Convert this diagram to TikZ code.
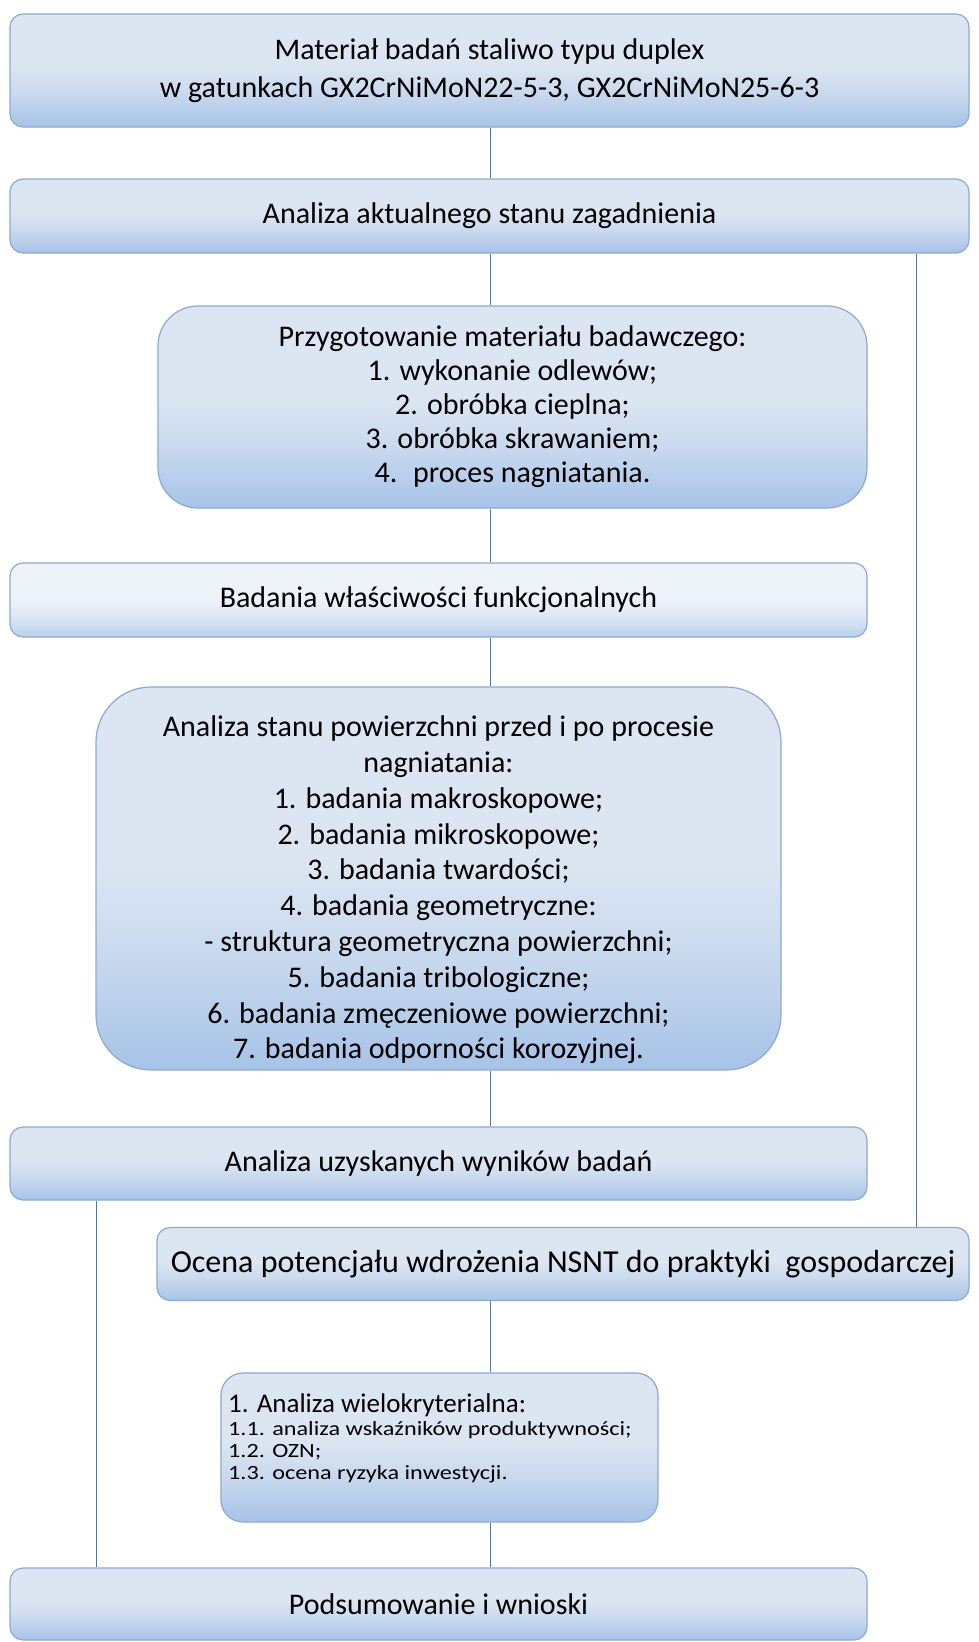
\documentclass[tikz,border=0pt]{standalone}
\usepackage{fontspec}
\setmainfont{Carlito}
\newfontfamily\widefont[FakeStretch=1.2]{Carlito}
\definecolor{btop}{HTML}{DCE6F2}
\definecolor{bmid}{HTML}{C9D9EE}
\definecolor{bbot}{HTML}{A7C3E8}
\definecolor{ltop}{HTML}{EEF3FA}
\definecolor{lmid}{HTML}{E0EAF6}
\definecolor{lbot}{HTML}{B9CFEC}
\definecolor{bord}{HTML}{8CA9CF}
\definecolor{conn}{HTML}{5673A0}
\pgfdeclareverticalshading{boxshade}{100bp}{color(0bp)=(bbot); color(25bp)=(bbot); color(40bp)=(bmid); color(52bp)=(btop); color(75bp)=(btop); color(100bp)=(btop)}
\pgfdeclareverticalshading{lightshade}{100bp}{color(0bp)=(lbot); color(25bp)=(lbot); color(40bp)=(lmid); color(52bp)=(ltop); color(75bp)=(ltop); color(100bp)=(ltop)}
\tikzset{
  box/.style={draw=bord, line width=1.2pt, shade, shading=boxshade, inner sep=0pt,
    align=center, rounded corners=13pt, font=\fontsize{30}{35.5}\selectfont},
  lightbox/.style={box, shading=lightshade},
  conn/.style={draw=conn, line width=1pt},
  txt/.style={inner sep=0pt, align=center, font=\fontsize{30}{35.8}\selectfont},
  head/.style={inner sep=0pt, anchor=base west, font=\fontsize{27}{30}\selectfont},
  sub/.style={inner sep=0pt, anchor=base west, font=\widefont\fontsize{20.2}{22}\selectfont}
}
\begin{document}
\begin{tikzpicture}[x=1pt,y=-1pt]
\useasboundingbox (0,0) rectangle (979,1642);
\coordinate (cx) at (490,0);
\coordinate (rx) at (916,0);
\coordinate (lx) at (96,0);

\node[box, minimum width=959pt, minimum height=113pt, font=\fontsize{30}{37.5}\selectfont] (b1) at (489.5,70.5)
  {Materiał badań staliwo typu duplex\\w gatunkach GX2CrNiMoN22-5-3, GX2CrNiMoN25-6-3};
\node[box, minimum width=959pt, minimum height=74pt] (b2) at (489.5,216)
  {Analiza aktualnego stanu zagadnienia};
\node[box, minimum width=709pt, minimum height=202pt, rounded corners=40pt, font=\fontsize{30}{34}\selectfont] (b3) at (512.5,407)
  {Przygotowanie materiału badawczego:\\1. wykonanie odlewów;\\2. obróbka cieplna;\\3. obróbka skrawaniem;\\4.~ proces nagniatania.};
\node[lightbox, minimum width=857pt, minimum height=74pt] (b4) at (438.5,600)
  {Badania właściwości funkcjonalnych};
\node[box, minimum width=685pt, minimum height=383pt, rounded corners=55pt] (b5) at (438.5,878.5) {};
\node[txt] (b5t) at (438.5,890)
  {Analiza stanu powierzchni przed i po procesie\\nagniatania:\\1. badania makroskopowe;\\2. badania mikroskopowe;\\3. badania twardości;\\4. badania geometryczne:\\- struktura geometryczna powierzchni;\\5. badania tribologiczne;\\6. badania zmęczeniowe powierzchni;\\7. badania odporności korozyjnej.};
\node[box, minimum width=857pt, minimum height=73pt] (b6) at (438.5,1163.5)
  {Analiza uzyskanych wyników badań};
\node[box, minimum width=812pt, minimum height=73pt, font=\fontsize{32}{36}\selectfont] (b7) at (563,1264)
  {Ocena potencjału wdrożenia NSNT do praktyki~ gospodarczej};
\node[box, minimum width=437pt, minimum height=149pt, rounded corners=22pt] (b8) at (439.5,1447.5) {};
\node[head] (b8a) at (228,1412) {1. Analiza wielokryterialna:};
\node[sub] (b8b) at (228,1435) {1.1. analiza wskaźników produktywności;};
\node[sub] (b8c) at (228,1457) {1.2. OZN;};
\node[sub] (b8d) at (228,1479) {1.3. ocena ryzyka inwestycji.};
\node[box, minimum width=857pt, minimum height=72pt] (b9) at (438.5,1604)
  {Podsumowanie i wnioski};

\draw[conn] (b1.south -| cx) -- (b2.north -| cx);
\draw[conn] (b2.south -| cx) -- (b3.north -| cx);
\draw[conn] (b3.south -| cx) -- (b4.north -| cx);
\draw[conn] (b4.south -| cx) -- (b5.north -| cx);
\draw[conn] (b5.south -| cx) -- (b6.north -| cx);
\draw[conn] (b7.south -| cx) -- (b8.north -| cx);
\draw[conn] (b8.south -| cx) -- (b9.north -| cx);
\draw[conn] (b2.south -| rx) -- (b7.north -| rx);
\draw[conn] (b6.south -| lx) -- (b9.north -| lx);
\end{tikzpicture}
\end{document}
